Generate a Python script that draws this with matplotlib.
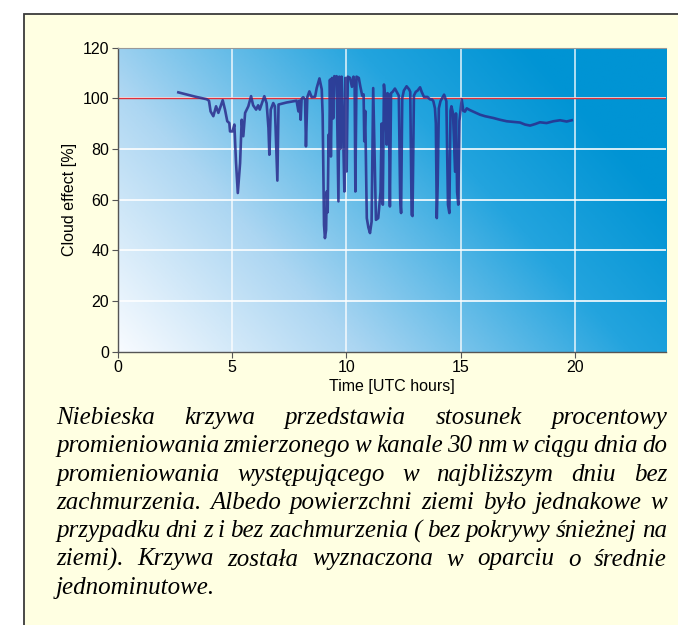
"""Cloud effect plot with Polish caption."""

import matplotlib
matplotlib.use("Agg")
import matplotlib.pyplot as plt
import numpy as np
from matplotlib.colors import LinearSegmentedColormap
from matplotlib.patches import Rectangle

# measured curve (hours UTC, cloud effect %)
hours = [
    2.66, 3.0, 3.4, 3.9, 4.0, 4.07, 4.19, 4.31, 4.41, 4.48, 4.6, 4.7, 4.8, 4.89,
    4.92, 5.03, 5.11, 5.18, 5.26, 5.36, 5.43, 5.5, 5.58, 5.72, 5.84, 5.93, 6.06,
    6.15, 6.22, 6.42, 6.52, 6.6, 6.64, 6.7, 6.81, 6.88, 6.99, 7.04, 7.17, 7.39,
    7.69, 7.83, 7.91, 7.95, 8.01, 8.05, 8.12, 8.2, 8.24, 8.3, 8.39, 8.49, 8.64,
    8.71, 8.83, 8.93, 8.97, 9.03, 9.07, 9.12, 9.15, 9.19, 9.23, 9.26, 9.29, 9.33,
    9.38, 9.43, 9.48, 9.53, 9.58, 9.66, 9.7, 9.75, 9.8, 9.87, 9.92, 9.96, 10.02,
    10.07, 10.17, 10.25, 10.32, 10.37, 10.4, 10.45, 10.55, 10.62, 10.7, 10.76,
    10.79, 10.83, 10.9, 10.97, 11.04, 11.11, 11.18, 11.3, 11.4, 11.5, 11.55,
    11.6, 11.65, 11.7, 11.77, 11.8, 11.86, 11.91, 11.96, 12.03, 12.13, 12.24,
    12.3, 12.36, 12.4, 12.45, 12.52, 12.64, 12.75, 12.8, 12.86, 12.9, 12.96,
    13.04, 13.12, 13.23, 13.3, 13.4, 13.55, 13.67, 13.75, 13.81, 13.88, 13.92,
    13.96, 14.0, 14.05, 14.12, 14.28, 14.38, 14.45, 14.51, 14.56, 14.6, 14.67,
    14.76, 14.8, 14.85, 14.9, 14.95, 15.05, 15.12, 15.19, 15.27, 15.41, 15.63,
    15.85, 16.07, 16.43, 16.72, 17.02, 17.38, 17.6, 17.82, 18.04, 18.26, 18.47,
    18.76, 19.06, 19.35, 19.64, 19.86,
]
cloud_effect = [
    102.3, 101.5, 100.6, 99.6, 99.0, 94.8, 92.9, 96.8, 94.2, 96.0, 99.2, 95.5,
    90.9, 90.2, 86.9, 86.9, 89.6, 75.0, 62.6, 74.4, 91.5, 85.0, 94.2, 96.8,
    100.8, 97.2, 95.5, 97.2, 95.5, 100.8, 98.0, 88.3, 77.7, 95.5, 98.1, 96.8,
    67.5, 97.5, 97.8, 98.3, 98.8, 99.0, 94.8, 99.0, 91.5, 99.8, 100.4, 99.5,
    81.0, 100.4, 102.7, 100.4, 100.6, 104.0, 107.8, 103.5, 93.5, 50.0, 44.8,
    48.0, 63.2, 55.0, 85.6, 78.0, 107.3, 77.0, 108.0, 92.0, 108.7, 106.5, 108.7,
    59.3, 108.5, 80.0, 108.5, 84.3, 63.2, 108.0, 71.1, 108.5, 108.0, 104.5,
    108.5, 104.0, 63.2, 108.5, 108.0, 104.5, 101.0, 101.5, 83.0, 95.0, 52.7,
    49.0, 46.8, 51.3, 104.0, 52.0, 52.7, 63.0, 90.0, 58.0, 105.4, 100.0, 81.7,
    102.0, 101.5, 57.3, 102.0, 102.5, 103.8, 102.0, 101.0, 60.0, 54.7, 100.0,
    103.0, 104.7, 103.5, 102.5, 54.0, 53.5, 101.0, 102.5, 103.0, 104.3, 102.5,
    100.5, 100.5, 99.5, 99.5, 98.8, 96.0, 90.0, 52.7, 66.0, 96.0, 98.8, 101.4,
    98.8, 58.0, 54.7, 95.0, 96.8, 94.0, 71.0, 94.0, 63.0, 58.0, 91.0, 99.5,
    95.0, 94.7, 96.0, 95.3, 94.4, 93.5, 92.9, 92.2, 91.5, 90.9, 90.6, 90.4,
    89.6, 89.2, 89.8, 90.5, 90.2, 90.9, 91.3, 90.8, 91.3,
]
reference_level = 100
x_ticks = [0, 5, 10, 15, 20]
y_ticks = [0, 20, 40, 60, 80, 100, 120]

caption_lines = [
    "Niebieska krzywa przedstawia stosunek procentowy",
    "promieniowania zmierzonego w kanale 30 nm w ciągu dnia do",
    "promieniowania występującego w najbliższym dniu bez",
    "zachmurzenia. Albedo powierzchni ziemi było jednakowe w",
    "przypadku dni z i bez zachmurzenia ( bez pokrywy śnieżnej na",
    "ziemi). Krzywa została wyznaczona w oparciu o średnie",
    "jednominutowe.",
]

W, H = 678, 625
fig = plt.figure(figsize=(W / 100, H / 100), dpi=100)
fig.patch.set_facecolor("white")

# yellow framed box behind everything
fig.patches.append(Rectangle((24 / W, -0.1), 1.1, (H - 14) / H + 0.1,
                             transform=fig.transFigure, facecolor="#ffffe2",
                             edgecolor="#3a3a3a", linewidth=1.3, zorder=-5))

ax = fig.add_axes([117.5 / W, 1 - 351.7 / H, 548.9 / W, 304.2 / H])
ax.set_zorder(2)
ax.set_xlim(0, 24)
ax.set_ylim(0, 120)

# diagonal gradient background
gx, gy = np.meshgrid(np.linspace(0, 1, 300), np.linspace(0, 1, 200))
grad = np.clip(0.8 * gx + 0.4 * gy, 0, 1)
cmap = LinearSegmentedColormap.from_list(
    "bg", [(0, "#f8fbff"), (0.35, "#acd6f2"), (0.75, "#23a4de"), (1, "#0094d4")])
ax.imshow(grad, cmap=cmap, extent=[0, 24, 0, 120], origin="lower",
          aspect="auto", zorder=0, interpolation="bilinear")

for xv in x_ticks[1:]:
    ax.axvline(xv, color="white", linewidth=1.3, alpha=0.75, zorder=1)
for yv in y_ticks[1:-1]:
    ax.axhline(yv, color="white", linewidth=1.3, alpha=0.9, zorder=1)

ax.axhline(reference_level, color="#e0303a", linewidth=1.0, zorder=2)
ax.plot(hours, cloud_effect, color="#2a2c8c", linewidth=1.9, alpha=0.85,
        solid_joinstyle="round", zorder=3)

sans = "Liberation Sans"
ax.set_xticks(x_ticks)
ax.set_yticks(y_ticks)
ax.set_xticklabels([str(v) for v in x_ticks], fontfamily=sans)
ax.set_yticklabels([str(v) for v in y_ticks], fontfamily=sans)
ax.tick_params(labelsize=11.5, length=4, width=0.8, color="#555555", pad=2)
for s in ["left", "bottom"]:
    ax.spines[s].set_color("#555555")
    ax.spines[s].set_linewidth(1.0)
ax.spines["top"].set_color("#999999")
ax.spines["top"].set_linewidth(0.8)
ax.spines["right"].set_visible(False)
ax.set_xlabel("Time [UTC hours]", fontsize=11.5, labelpad=3, fontfamily=sans)
ax.set_ylabel("Cloud effect [%]", fontsize=11.5, labelpad=4, fontfamily=sans)

# justified italic caption
left_px, right_px = 56, 667
first_base = 424
line_step = 28.3
renderer = fig.canvas.get_renderer()
font = dict(family="Liberation Serif", style="italic", fontsize=18.0)
for i, line in enumerate(caption_lines):
    y = 1 - (first_base + i * line_step) / H
    words = line.split(" ")
    if i == len(caption_lines) - 1:
        fig.text(left_px / W, y, line, va="baseline", ha="left", **font)
        continue
    texts = [fig.text(0, y, w, va="baseline", ha="left", **font) for w in words]
    widths = [t.get_window_extent(renderer).width for t in texts]
    gap = (right_px - left_px - sum(widths)) / (len(words) - 1)
    x = left_px
    for t, w in zip(texts, widths):
        t.set_x(x / W)
        x += w + gap

fig.savefig("out.png", dpi=100)
